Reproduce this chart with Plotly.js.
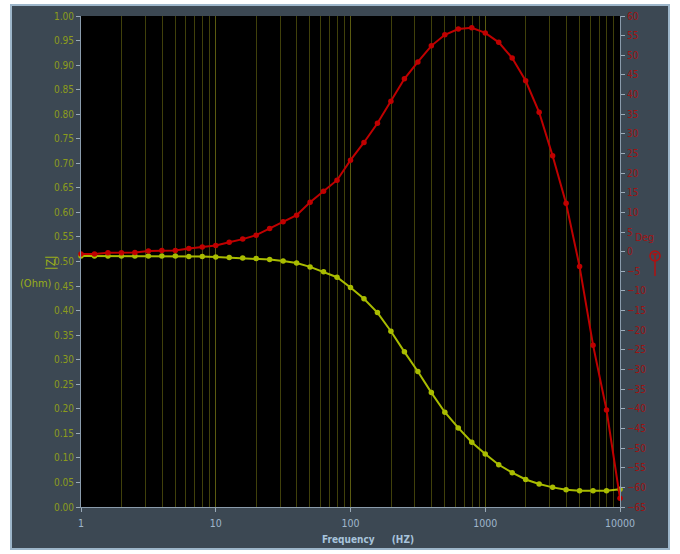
<!DOCTYPE html>
<html>
<head>
<meta charset="utf-8">
<script src="https://cdn.plot.ly/plotly-3.0.1.min.js"></script>
<style>
  html, body { margin: 0; padding: 0; background: #ffffff; }
  #chart { width: 680px; height: 554px; }
</style>
</head>
<body>
<div id="chart"></div>
<script>
// Frequency (Hz), 10 points per decade
const frequency = [1, 1.259, 1.585, 1.995, 2.512, 3.162, 3.981, 5.012, 6.31, 7.943,
  10, 12.59, 15.85, 19.95, 25.12, 31.62, 39.81, 50.12, 63.1, 79.43,
  100, 125.9, 158.5, 199.5, 251.2, 316.2, 398.1, 501.2, 631, 794.3,
  1000, 1259, 1585, 1995, 2512, 3162, 3981, 5012, 6310, 7943, 10000];

// |Z| (Ohm)
const impedance = [0.511, 0.511, 0.511, 0.511, 0.511, 0.511, 0.511, 0.511, 0.510, 0.510,
  0.509, 0.508, 0.507, 0.506, 0.504, 0.501, 0.497, 0.489, 0.479, 0.468,
  0.447, 0.424, 0.396, 0.358, 0.316, 0.276, 0.233, 0.193, 0.161, 0.132,
  0.108, 0.086, 0.070, 0.056, 0.047, 0.040, 0.035, 0.033, 0.033, 0.033, 0.036];

// Phase (Deg)
const phase = [-0.6, -0.6, -0.3, -0.3, -0.2, 0.2, 0.3, 0.3, 0.8, 1.2,
  1.6, 2.4, 3.2, 4.2, 5.9, 7.6, 9.3, 12.6, 15.4, 18.2,
  23.3, 27.8, 32.7, 38.3, 44.0, 48.3, 52.4, 55.2, 56.7, 57.0,
  55.7, 53.3, 49.3, 43.5, 35.5, 24.4, 12.3, -3.8, -23.8, -40.3, -62.8];

const xTickVals = [1, 10, 100, 1000, 10000];
const xTickText = ['1', '10', '100', '1000', '10000'];

const tickFont = 'DejaVu Sans Condensed, Liberation Sans Narrow, sans-serif';

// paper coordinate helpers (plot area: x 81..620, y 16..507)
const PX = px => (px - 81) / 539;
const PY = py => (507 - py) / 491;

const traces = [
  {
    x: frequency, y: impedance, type: 'scatter', mode: 'lines+markers',
    line: {color: '#a9bc00', width: 2},
    marker: {color: '#a9bc00', size: 5.5, symbol: 'circle'},
    yaxis: 'y', cliponaxis: false, showlegend: false, hoverinfo: 'x+y'
  },
  {
    x: frequency, y: phase, type: 'scatter', mode: 'lines+markers',
    line: {color: '#c00000', width: 2},
    marker: {color: '#c00000', size: 5.5, symbol: 'circle'},
    yaxis: 'y2', cliponaxis: false, showlegend: false, hoverinfo: 'x+y'
  }
];

const layout = {
  width: 680, height: 554,
  margin: {l: 81, r: 60, t: 16, b: 47, pad: 0},
  paper_bgcolor: '#ffffff',
  plot_bgcolor: 'rgba(0,0,0,0)',
  showlegend: false,
  xaxis: {
    type: 'log', range: [0, 4],
    tickvals: xTickVals, ticktext: xTickText,
    ticks: 'outside', ticklen: 4, tickcolor: '#9aaab8', tickwidth: 1,
    ticklabelstandoff: 2,
    tickfont: {family: tickFont, size: 10.5, color: '#9fb6cc'},
    showgrid: true, gridcolor: '#5a5a10', gridwidth: 1,
    minor: {dtick: 'D1', showgrid: true, gridcolor: '#40400b', gridwidth: 1, ticks: ''},
    showline: true, linecolor: '#8a9bab', linewidth: 1,
    zeroline: false, fixedrange: true
  },
  yaxis: {
    range: [0, 1], dtick: 0.05, tickformat: '.2f',
    ticks: 'outside', ticklen: 4, tickcolor: '#9aaab8',
    tickfont: {family: tickFont, size: 10, color: '#8c9c1c'},
    showgrid: false, zeroline: false,
    showline: true, linecolor: '#8a9bab', linewidth: 1, fixedrange: true
  },
  yaxis2: {
    range: [-65, 60], dtick: 5, overlaying: 'y', side: 'right',
    ticks: 'outside', ticklen: 4, tickcolor: '#9aaab8',
    tickfont: {family: tickFont, size: 10, color: '#9c1414'},
    showgrid: false, zeroline: false,
    showline: true, linecolor: '#8a9bab', linewidth: 1, fixedrange: true
  },
  shapes: [
    {type: 'rect', xref: 'paper', yref: 'paper', layer: 'below',
     x0: PX(11), x1: PX(669), y0: PY(549), y1: PY(5),
     fillcolor: '#3c4853', line: {color: '#9db6ca', width: 2}},
    {type: 'rect', xref: 'paper', yref: 'paper', layer: 'below',
     x0: 0, x1: 1, y0: 0, y1: 1,
     fillcolor: '#000000', line: {width: 0}},
    {type: 'circle', xref: 'paper', yref: 'paper', layer: 'above',
     x0: PX(650), x1: PX(660), y0: PY(261), y1: PY(251),
     line: {color: '#b01010', width: 1.5}},
    {type: 'line', xref: 'paper', yref: 'paper', layer: 'above',
     x0: PX(652.5), x1: PX(657.5), y0: PY(254), y1: PY(254),
     line: {color: '#b01010', width: 1.5}},
    {type: 'line', xref: 'paper', yref: 'paper', layer: 'above',
     x0: PX(655), x1: PX(655), y0: PY(254), y1: PY(276),
     line: {color: '#b01010', width: 1.5}}
  ],
  annotations: [
    {text: '<b>Frequency</b>&nbsp;&nbsp;&nbsp;&nbsp;&nbsp;&nbsp;<b>(HZ)</b>', xref: 'paper', yref: 'paper',
     x: PX(368), y: PY(539), yanchor: 'middle', showarrow: false,
     font: {family: tickFont, size: 10, color: '#a8c4dc'}},
    {text: '|Z|', xref: 'paper', yref: 'paper', x: PX(42), y: PY(263),
     textangle: -90, yanchor: 'middle', showarrow: false,
     font: {family: tickFont, size: 12, color: '#9aae1a'}},
    {text: '(Ohm)', xref: 'paper', yref: 'paper', x: PX(53), y: PY(283),
     xanchor: 'right', yanchor: 'middle', showarrow: false, borderpad: 0,
     font: {family: tickFont, size: 11, color: '#9aae1a'}},
    {text: 'Deg', xref: 'paper', yref: 'paper', x: PX(656), y: PY(237),
     yanchor: 'middle', showarrow: false,
     font: {family: tickFont, size: 10.5, color: '#a01414'}}
  ]
};

Plotly.newPlot('chart', traces, layout, {staticPlot: true, displayModeBar: false});
</script>
</body>
</html>
